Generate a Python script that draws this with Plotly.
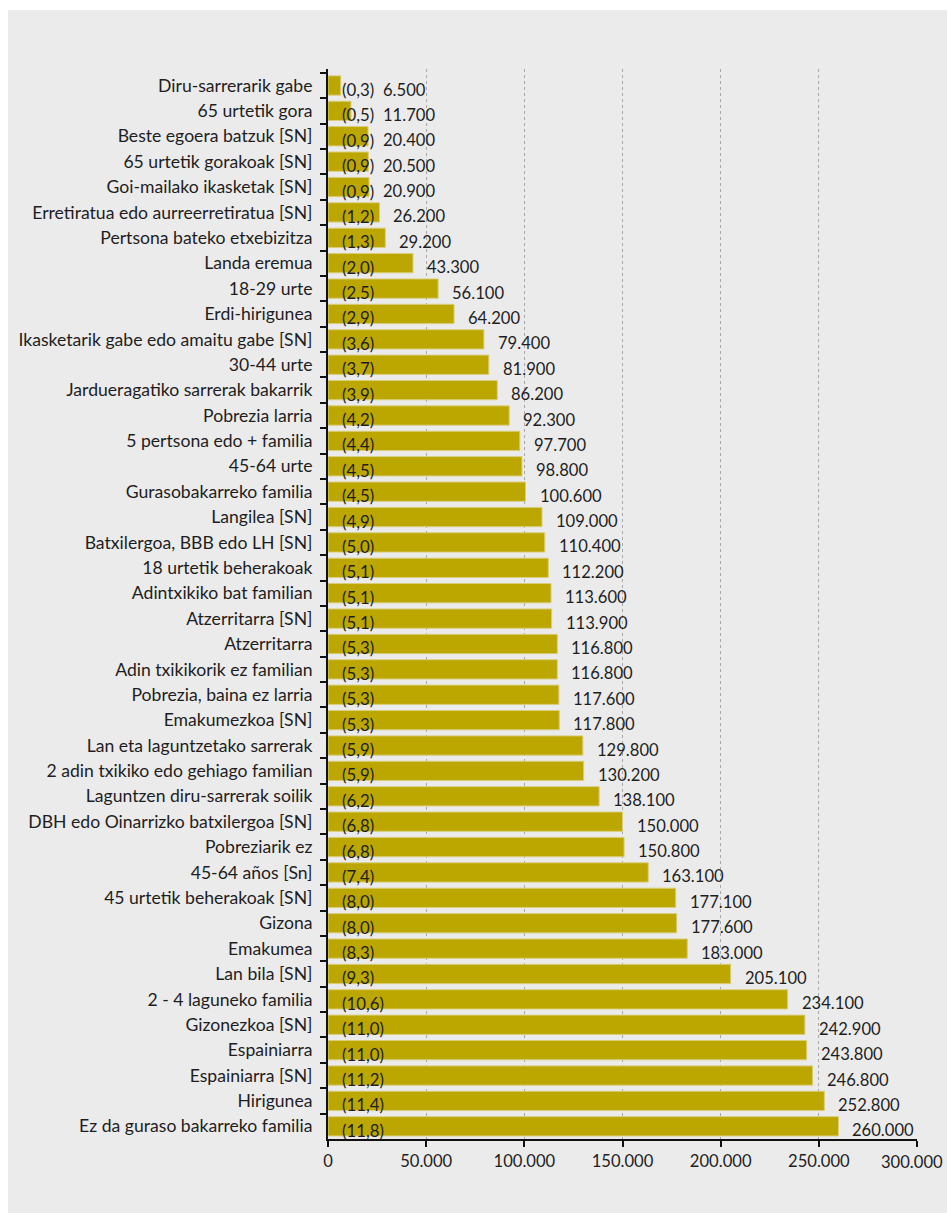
import plotly.graph_objects as go

categories = [
    "Diru-sarrerarik gabe", "65 urtetik gora", "Beste egoera batzuk [SN]",
    "65 urtetik gorakoak [SN]", "Goi-mailako ikasketak [SN]",
    "Erretiratua edo aurreerretiratua [SN]", "Pertsona bateko etxebizitza",
    "Landa eremua", "18-29 urte", "Erdi-hirigunea",
    "Ikasketarik gabe edo amaitu gabe [SN]", "30-44 urte",
    "Jardueragatiko sarrerak bakarrik", "Pobrezia larria",
    "5 pertsona edo + familia", "45-64 urte", "Gurasobakarreko familia",
    "Langilea [SN]", "Batxilergoa, BBB edo LH [SN]", "18 urtetik beherakoak",
    "Adintxikiko bat familian", "Atzerritarra [SN]", "Atzerritarra",
    "Adin txikikorik ez familian", "Pobrezia, baina ez larria",
    "Emakumezkoa [SN]", "Lan eta laguntzetako sarrerak",
    "2 adin txikiko edo gehiago familian", "Laguntzen diru-sarrerak soilik",
    "DBH edo Oinarrizko batxilergoa [SN]", "Pobreziarik ez", "45-64 años [Sn]",
    "45 urtetik beherakoak [SN]", "Gizona", "Emakumea", "Lan bila [SN]",
    "2 - 4 laguneko familia", "Gizonezkoa [SN]", "Espainiarra",
    "Espainiarra [SN]", "Hirigunea", "Ez da guraso bakarreko familia",
]

values = [
    6500, 11700, 20400, 20500, 20900, 26200, 29200, 43300, 56100, 64200,
    79400, 81900, 86200, 92300, 97700, 98800, 100600, 109000, 110400, 112200,
    113600, 113900, 116800, 116800, 117600, 117800, 129800, 130200, 138100,
    150000, 150800, 163100, 177100, 177600, 183000, 205100, 234100, 242900,
    243800, 246800, 252800, 260000,
]

shares = [
    0.3, 0.5, 0.9, 0.9, 0.9, 1.2, 1.3, 2.0, 2.5, 2.9, 3.6, 3.7, 3.9, 4.2, 4.4,
    4.5, 4.5, 4.9, 5.0, 5.1, 5.1, 5.1, 5.3, 5.3, 5.3, 5.3, 5.9, 5.9, 6.2, 6.8,
    6.8, 7.4, 8.0, 8.0, 8.3, 9.3, 10.6, 11.0, 11.0, 11.2, 11.4, 11.8,
]

x_ticks = [0, 50000, 100000, 150000, 200000, 250000, 300000]
x_tick_labels = ["0", "50.000", "100.000", "150.000", "200.000", "250.000", "300.000"]

FONT = "Lato, 'Open Sans', sans-serif"
TEXT = "#1e1e1e"
BAR = "#bca600"
BG = "#ebebeb"


def fmt_thousands(v):
    return f"{v:,}".replace(",", ".")


def fmt_share(s):
    return "(" + f"{s:.1f}".replace(".", ",") + ")"


fig = go.Figure()
fig.add_trace(go.Bar(
    x=values, y=categories, orientation="h",
    marker=dict(color=BAR, line=dict(color="#d9ce7a", width=1)),
    hoverinfo="x+y",
))

annotations = []
min_label_x = 20900  # labels of very short bars are pushed past the share label
for cat, v, s in zip(categories, values, shares):
    annotations.append(dict(
        x=0, y=cat, xref="x", yref="y", text=fmt_share(s), showarrow=False,
        xanchor="left", yanchor="middle", xshift=12, yshift=-4,
        font=dict(family=FONT, size=16.8, color=TEXT),
    ))
    annotations.append(dict(
        x=max(v, min_label_x), y=cat, xref="x", yref="y", text=fmt_thousands(v),
        showarrow=False, xanchor="left", yanchor="middle", xshift=12, yshift=-4,
        font=dict(family=FONT, size=16.6, color=TEXT),
    ))

# the last tick label is nudged left so it stays inside the page
shown_tick_text = x_tick_labels[:-1] + [""]
annotations.append(dict(
    x=x_ticks[-1], y=0, xref="x", yref="paper", text=x_tick_labels[-1],
    showarrow=False, xanchor="center", yanchor="middle", xshift=-5, yshift=-23,
    font=dict(family=FONT, size=16.6, color=TEXT),
))

fig.update_layout(
    width=939, height=1203,
    margin=dict(l=320, r=30, t=59, b=74, autoexpand=False),
    paper_bgcolor=BG, plot_bgcolor=BG,
    bargap=0.24,
    showlegend=False,
    annotations=annotations,
    font=dict(family=FONT, size=16, color=TEXT),
    xaxis=dict(
        range=[0, 300000], tickvals=x_ticks, ticktext=shown_tick_text,
        showgrid=True, gridcolor="#a8a8a8", griddash="dot", gridwidth=1,
        showline=True, linecolor="#111", linewidth=2,
        ticks="outside", ticklen=6, tickwidth=2, tickcolor="#111",
        zeroline=False, fixedrange=True,
        automargin=False,
        tickfont=dict(family=FONT, size=16.6, color=TEXT),
    ),
    yaxis=dict(
        autorange="reversed", type="category",
        showline=True, linecolor="#111", linewidth=2,
        ticks="outside", ticklen=6, tickwidth=2, tickcolor="#111",
        tickson="boundaries", showgrid=False, automargin=False,
        ticklabelstandoff=10,
        tickfont=dict(family=FONT, size=17.6, color=TEXT),
    ),
)

fig.write_html(
    "out.html",
    post_script="document.body.style.margin='10px 0 0 8px';"
                "document.body.style.overflow='hidden';",
)
